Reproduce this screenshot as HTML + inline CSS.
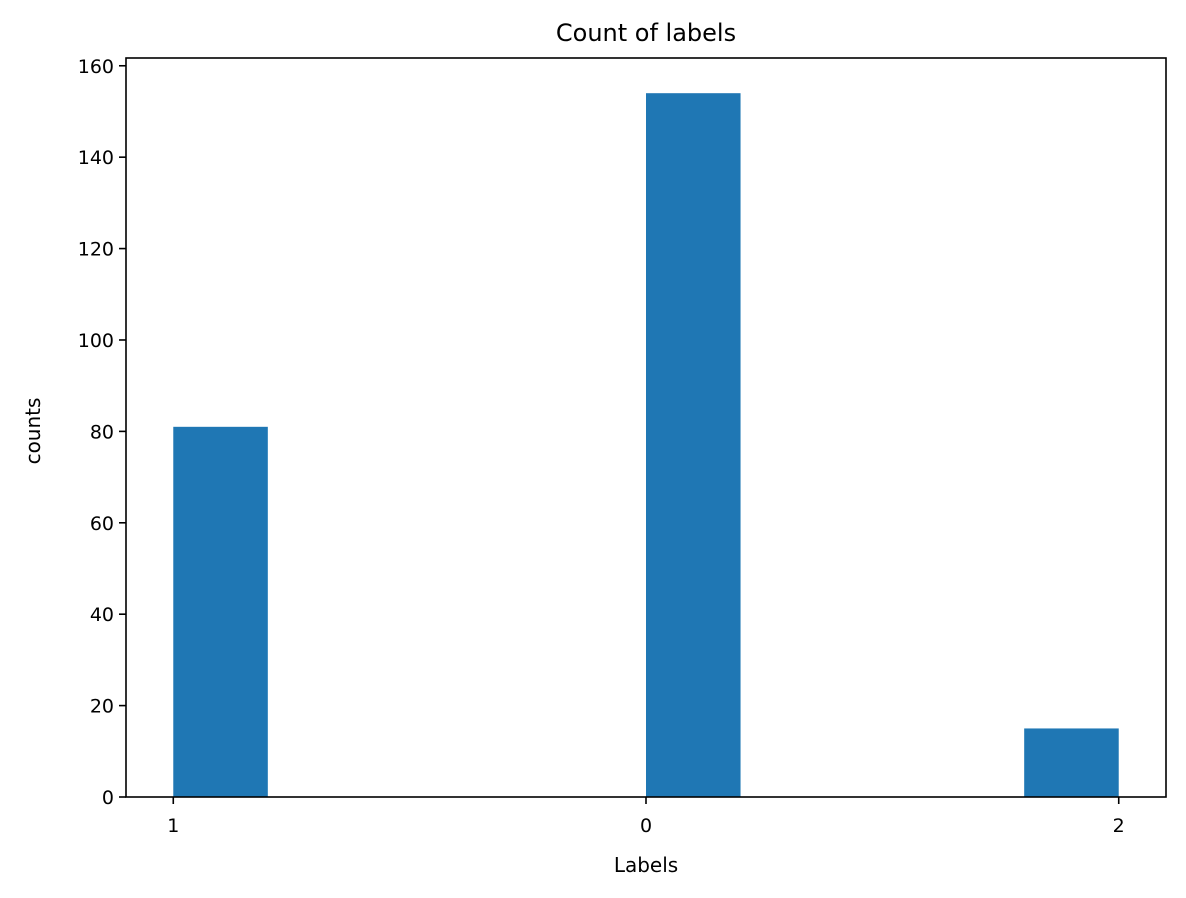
<!DOCTYPE html>
<html><head><meta charset="utf-8"><style>
html,body{margin:0;padding:0;background:#fff;}
svg{display:block;font-family:"DejaVu Sans","Liberation Sans",sans-serif;}
</style></head><body>
<svg id="chart" width="1186" height="898" viewBox="0 0 1186 898">
<rect x="0" y="0" width="1186" height="898" fill="#fff"/>
<g id="bars"></g>
<g id="yticks"></g>
<g id="xticks"></g>
<rect x="126" y="58" width="1040" height="739" fill="none" stroke="#000" stroke-width="1.6"/>
<text x="646" y="41" font-size="24" text-anchor="middle">Count of labels</text>
<text x="646" y="872" font-size="20" text-anchor="middle">Labels</text>
<text transform="translate(40,431) rotate(-90)" font-size="20" text-anchor="middle">counts</text>
</svg>
<script>
const xTickLabels = ["1","0","2"];
const xTickPositions = [0,1,2];
const binStarts = [0,1.0,1.8];
const binWidth = 0.2;
const counts = [81,154,15];
const yTicks = [0,20,40,60,80,100,120,140,160];

const NS="http://www.w3.org/2000/svg";
const L=126,R=1166,T=58,B=797;
const xMin=-0.1,xMax=2.1;
const yMax=Math.max(...counts)*1.05;
const xs=v=>L+(v-xMin)/(xMax-xMin)*(R-L);
const ys=v=>B-v/yMax*(B-T);
function mk(tag,attrs){const e=document.createElementNS(NS,tag);for(const k in attrs)e.setAttribute(k,attrs[k]);return e;}
const gb=document.getElementById('bars');
counts.forEach((c,i)=>{
  const x0=xs(binStarts[i]),x1=xs(binStarts[i]+binWidth);
  const r=mk('rect',{x:x0,y:ys(c),width:x1-x0,height:B-ys(c),fill:'#1f77b4'});
  
  
  gb.appendChild(r);
});
const gy=document.getElementById('yticks');
yTicks.forEach(v=>{
  const y=ys(v);
  const l=mk('line',{x1:L-7,x2:L,y1:y,y2:y,stroke:'#000','stroke-width':1.6});
  
  
  gy.appendChild(l);
  const t=mk('text',{x:L-12,y:y+7,'font-size':19,'text-anchor':'end'});
  t.textContent=v;
  
  
  gy.appendChild(t);
});
const gx=document.getElementById('xticks');
xTickPositions.forEach((p,i)=>{
  const x=xs(p);
  const l=mk('line',{x1:x,x2:x,y1:B,y2:B+7,stroke:'#000','stroke-width':1.6});
  
  
  gx.appendChild(l);
  const t=mk('text',{x:x,y:B+35,'font-size':19,'text-anchor':'middle'});
  t.textContent=xTickLabels[i];
  
  
  gx.appendChild(t);
});
</script>
</body></html>
